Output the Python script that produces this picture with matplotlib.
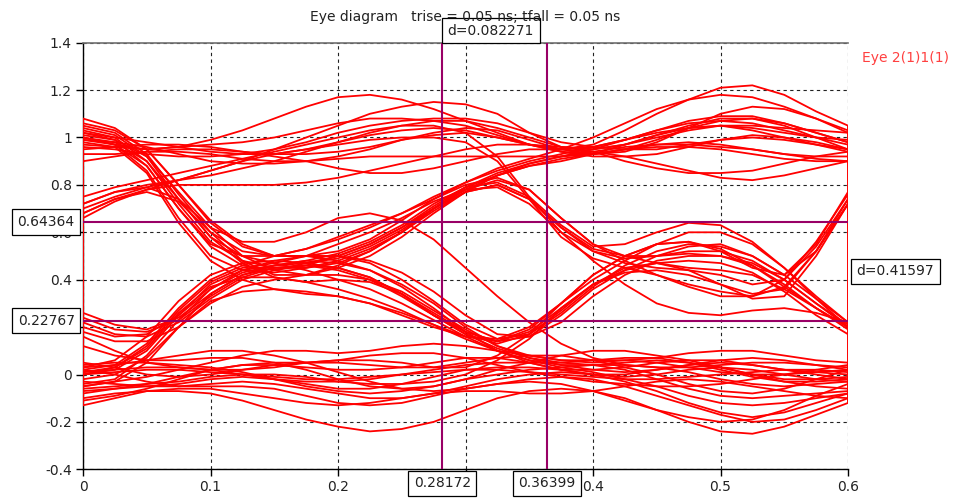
import matplotlib
matplotlib.use("Agg")
import matplotlib.pyplot as plt

plt.rcParams['font.family'] = ['DejaVu Sans']

# time grid (ns) at which each trace value was read
time_ns = [0.0, 0.025, 0.05, 0.075, 0.1, 0.125, 0.15, 0.175, 0.2, 0.225, 0.25, 0.275,
           0.3, 0.325, 0.35, 0.375, 0.4, 0.425, 0.45, 0.475, 0.5, 0.525, 0.55, 0.575, 0.6]

# traces that stay on the high rail
high_traces = [
    [1.0, 0.97, 0.95, 0.96, 0.99, 1.03, 1.08, 1.13, 1.17, 1.18, 1.16, 1.12, 1.07, 1.02, 0.97, 0.95, 0.97, 1.03, 1.1, 1.16, 1.21, 1.22, 1.18, 1.11, 1.05],
    [0.97, 0.96, 0.95, 0.96, 0.97, 0.98, 1.0, 1.03, 1.06, 1.08, 1.08, 1.07, 1.05, 1.01, 0.97, 0.94, 0.93, 0.95, 0.99, 1.04, 1.07, 1.08, 1.06, 1.02, 0.98],
    [0.93, 0.93, 0.94, 0.95, 0.95, 0.94, 0.92, 0.9, 0.87, 0.85, 0.85, 0.87, 0.9, 0.93, 0.95, 0.95, 0.94, 0.92, 0.89, 0.86, 0.83, 0.82, 0.84, 0.87, 0.9],
    [1.02, 1.0, 0.98, 0.96, 0.94, 0.93, 0.93, 0.95, 0.98, 1.01, 1.03, 1.04, 1.03, 1.0, 0.97, 0.95, 0.96, 0.99, 1.03, 1.06, 1.07, 1.06, 1.03, 1.0, 0.97],
    [0.95, 0.96, 0.97, 0.97, 0.96, 0.94, 0.93, 0.93, 0.94, 0.96, 0.99, 1.01, 1.02, 1.0, 0.97, 0.94, 0.92, 0.92, 0.93, 0.96, 0.99, 1.01, 1.0, 0.98, 0.95],
    [0.9, 0.92, 0.94, 0.94, 0.93, 0.91, 0.9, 0.9, 0.91, 0.92, 0.92, 0.92, 0.92, 0.92, 0.92, 0.92, 0.93, 0.95, 0.97, 0.98, 0.97, 0.95, 0.93, 0.91, 0.9],
    [0.96, 0.95, 0.93, 0.92, 0.92, 0.93, 0.95, 0.98, 1.02, 1.05, 1.07, 1.08, 1.08, 1.06, 1.02, 0.98, 0.96, 0.95, 0.95, 0.97, 0.99, 1.0, 0.99, 0.97, 0.95],
    [0.99, 0.98, 0.96, 0.93, 0.9, 0.89, 0.89, 0.9, 0.92, 0.95, 0.99, 1.02, 1.04, 1.03, 0.99, 0.95, 0.93, 0.94, 0.98, 1.04, 1.1, 1.13, 1.12, 1.08, 1.02],
]

# traces starting high and falling to the middle level near 0.07 ns
falling_traces = [
    [1.03, 1.0, 0.9, 0.72, 0.56, 0.48, 0.45, 0.45, 0.47, 0.52, 0.6, 0.7, 0.79, 0.85, 0.89, 0.92, 0.95, 0.99, 1.03, 1.07, 1.09, 1.09, 1.06, 1.02, 0.98],
    [1.0, 0.97, 0.86, 0.66, 0.5, 0.44, 0.43, 0.45, 0.48, 0.53, 0.6, 0.69, 0.77, 0.8, 0.74, 0.62, 0.53, 0.5, 0.5, 0.51, 0.5, 0.46, 0.38, 0.28, 0.2],
    [1.05, 1.02, 0.93, 0.76, 0.6, 0.52, 0.5, 0.5, 0.48, 0.44, 0.37, 0.28, 0.18, 0.1, 0.05, 0.02, 0.0, -0.01, 0.0, 0.02, 0.03, 0.02, 0.0, -0.02, -0.03],
    [1.0, 0.98, 0.9, 0.74, 0.58, 0.47, 0.41, 0.39, 0.4, 0.39, 0.34, 0.26, 0.18, 0.14, 0.18, 0.28, 0.38, 0.43, 0.44, 0.42, 0.38, 0.34, 0.36, 0.52, 0.74],
    [1.08, 1.04, 0.95, 0.8, 0.65, 0.55, 0.5, 0.5, 0.52, 0.57, 0.65, 0.74, 0.81, 0.87, 0.91, 0.95, 1.0, 1.06, 1.12, 1.16, 1.18, 1.17, 1.13, 1.08, 1.03],
    [0.98, 0.96, 0.85, 0.64, 0.48, 0.4, 0.36, 0.34, 0.33, 0.3, 0.25, 0.2, 0.16, 0.15, 0.2, 0.3, 0.4, 0.48, 0.55, 0.6, 0.6, 0.55, 0.45, 0.32, 0.2],
    [1.02, 0.99, 0.88, 0.7, 0.55, 0.5, 0.5, 0.53, 0.58, 0.63, 0.68, 0.74, 0.8, 0.83, 0.78, 0.66, 0.55, 0.48, 0.42, 0.37, 0.33, 0.33, 0.4, 0.56, 0.76],
    [1.04, 1.01, 0.92, 0.74, 0.58, 0.5, 0.47, 0.44, 0.4, 0.36, 0.3, 0.23, 0.16, 0.1, 0.06, 0.04, 0.04, 0.05, 0.06, 0.05, 0.03, 0.0, -0.03, -0.05, -0.06],
    [1.01, 0.99, 0.92, 0.77, 0.62, 0.56, 0.56, 0.6, 0.66, 0.68, 0.65, 0.57, 0.45, 0.33, 0.22, 0.13, 0.07, 0.04, 0.03, 0.03, 0.04, 0.05, 0.05, 0.04, 0.03],
    [1.06, 1.03, 0.95, 0.8, 0.64, 0.54, 0.5, 0.5, 0.5, 0.48, 0.43, 0.35, 0.25, 0.17, 0.16, 0.22, 0.33, 0.42, 0.48, 0.5, 0.5, 0.47, 0.4, 0.3, 0.21],
    [0.99, 0.97, 0.88, 0.7, 0.54, 0.46, 0.44, 0.46, 0.5, 0.55, 0.62, 0.71, 0.79, 0.84, 0.88, 0.9, 0.93, 0.97, 1.01, 1.04, 1.05, 1.03, 1.0, 0.97, 0.94],
]

# traces starting near 0.7 (rising from the middle level)
rising_traces = [
    [0.72, 0.77, 0.8, 0.82, 0.84, 0.87, 0.9, 0.94, 0.98, 1.02, 1.05, 1.07, 1.07, 1.04, 1.0, 0.96, 0.95, 0.97, 1.01, 1.05, 1.08, 1.08, 1.05, 1.0, 0.95],
    [0.68, 0.74, 0.78, 0.8, 0.8, 0.8, 0.8, 0.81, 0.83, 0.86, 0.89, 0.92, 0.95, 0.97, 0.97, 0.96, 0.94, 0.9, 0.87, 0.85, 0.85, 0.86, 0.89, 0.92, 0.94],
    [0.75, 0.79, 0.82, 0.85, 0.88, 0.91, 0.94, 0.97, 1.0, 1.03, 1.05, 1.05, 1.02, 0.92, 0.75, 0.6, 0.52, 0.49, 0.5, 0.52, 0.52, 0.48, 0.4, 0.3, 0.2],
    [0.66, 0.73, 0.78, 0.82, 0.86, 0.9, 0.93, 0.95, 0.97, 0.99, 1.0, 1.0, 0.98, 0.9, 0.74, 0.58, 0.49, 0.45, 0.42, 0.38, 0.35, 0.33, 0.37, 0.52, 0.72],
    [0.7, 0.75, 0.79, 0.82, 0.86, 0.9, 0.95, 1.0, 1.05, 1.1, 1.13, 1.15, 1.14, 1.1, 1.02, 0.96, 0.95, 0.97, 1.0, 1.03, 1.05, 1.05, 1.04, 1.03, 1.02],
    [0.72, 0.77, 0.79, 0.74, 0.62, 0.5, 0.44, 0.42, 0.42, 0.4, 0.35, 0.27, 0.19, 0.12, 0.08, 0.06, 0.06, 0.06, 0.05, 0.03, 0.01, 0.0, 0.0, 0.01, 0.02],
    [0.68, 0.74, 0.77, 0.73, 0.6, 0.48, 0.42, 0.42, 0.45, 0.5, 0.58, 0.68, 0.77, 0.84, 0.89, 0.92, 0.94, 0.96, 0.97, 0.97, 0.96, 0.95, 0.93, 0.92, 0.92],
]

# traces starting low and rising to the middle level
low_to_mid_traces = [
    [0.0, 0.02, 0.1, 0.25, 0.38, 0.44, 0.46, 0.48, 0.51, 0.56, 0.63, 0.72, 0.79, 0.81, 0.75, 0.63, 0.54, 0.55, 0.6, 0.64, 0.63, 0.56, 0.45, 0.33, 0.22],
    [-0.05, -0.03, 0.05, 0.2, 0.34, 0.42, 0.45, 0.46, 0.45, 0.41, 0.34, 0.25, 0.17, 0.11, 0.07, 0.05, 0.04, 0.02, -0.02, -0.06, -0.09, -0.1, -0.09, -0.08, -0.07],
    [0.03, 0.06, 0.16, 0.31, 0.42, 0.47, 0.48, 0.47, 0.45, 0.41, 0.34, 0.25, 0.17, 0.13, 0.17, 0.27, 0.38, 0.45, 0.47, 0.44, 0.38, 0.32, 0.33, 0.5, 0.72],
    [0.02, 0.04, 0.13, 0.28, 0.4, 0.46, 0.5, 0.53, 0.57, 0.62, 0.68, 0.75, 0.81, 0.86, 0.9, 0.93, 0.96, 0.99, 1.02, 1.04, 1.05, 1.04, 1.02, 1.0, 0.99],
    [-0.02, 0.0, 0.07, 0.2, 0.31, 0.35, 0.36, 0.35, 0.33, 0.3, 0.26, 0.21, 0.16, 0.14, 0.19, 0.3, 0.42, 0.5, 0.55, 0.56, 0.53, 0.46, 0.37, 0.28, 0.19],
    [0.01, 0.03, 0.12, 0.27, 0.39, 0.45, 0.47, 0.5, 0.55, 0.6, 0.66, 0.73, 0.78, 0.79, 0.72, 0.6, 0.48, 0.38, 0.3, 0.26, 0.25, 0.27, 0.28, 0.26, 0.22],
    [-0.06, -0.05, -0.04, -0.03, -0.01, 0.0, 0.0, -0.01, -0.03, -0.04, -0.04, -0.03, 0.0, 0.06, 0.15, 0.28, 0.38, 0.44, 0.47, 0.48, 0.47, 0.43, 0.35, 0.25, 0.17],
    [0.01, 0.02, 0.03, 0.03, 0.02, 0.02, 0.03, 0.05, 0.06, 0.06, 0.05, 0.03, 0.03, 0.08, 0.17, 0.3, 0.42, 0.5, 0.55, 0.56, 0.52, 0.45, 0.42, 0.55, 0.77],
    [-0.04, -0.02, 0.08, 0.23, 0.36, 0.43, 0.46, 0.47, 0.49, 0.54, 0.61, 0.7, 0.77, 0.8, 0.74, 0.62, 0.52, 0.47, 0.45, 0.44, 0.42, 0.38, 0.4, 0.54, 0.74],
    [0.0, 0.03, 0.11, 0.26, 0.37, 0.41, 0.41, 0.39, 0.36, 0.32, 0.27, 0.21, 0.15, 0.1, 0.06, 0.03, 0.01, -0.02, -0.05, -0.09, -0.12, -0.13, -0.12, -0.1, -0.08],
]

# traces starting near 0.2 (middle level dipping, then recovering or settling low)
mid_dip_traces = [
    [0.22, 0.17, 0.16, 0.22, 0.32, 0.4, 0.44, 0.47, 0.5, 0.55, 0.62, 0.7, 0.78, 0.82, 0.78, 0.66, 0.55, 0.5, 0.47, 0.45, 0.44, 0.42, 0.36, 0.28, 0.2],
    [0.26, 0.21, 0.19, 0.24, 0.34, 0.42, 0.46, 0.48, 0.47, 0.44, 0.38, 0.3, 0.2, 0.12, 0.07, 0.04, 0.02, 0.01, 0.02, 0.04, 0.06, 0.07, 0.06, 0.04, 0.02],
    [0.18, 0.14, 0.14, 0.2, 0.3, 0.37, 0.4, 0.42, 0.46, 0.52, 0.6, 0.7, 0.78, 0.84, 0.88, 0.91, 0.93, 0.95, 0.96, 0.96, 0.95, 0.93, 0.91, 0.9, 0.9],
    [0.2, 0.16, 0.17, 0.25, 0.36, 0.44, 0.48, 0.5, 0.5, 0.47, 0.4, 0.31, 0.21, 0.15, 0.17, 0.26, 0.37, 0.46, 0.52, 0.55, 0.54, 0.5, 0.42, 0.32, 0.22],
    [0.24, 0.19, 0.18, 0.23, 0.33, 0.41, 0.45, 0.46, 0.44, 0.4, 0.33, 0.25, 0.18, 0.14, 0.16, 0.25, 0.36, 0.44, 0.5, 0.54, 0.55, 0.5, 0.42, 0.52, 0.72],
    [0.16, 0.1, 0.05, 0.03, 0.02, 0.0, -0.02, -0.03, -0.03, -0.02, 0.0, 0.02, 0.04, 0.05, 0.05, 0.05, 0.06, 0.07, 0.07, 0.05, 0.02, -0.01, -0.03, -0.03, -0.02],
    [0.12, 0.08, 0.06, 0.06, 0.07, 0.07, 0.05, 0.02, -0.02, -0.05, -0.06, -0.05, -0.02, 0.02, 0.05, 0.08, 0.1, 0.1, 0.08, 0.06, 0.03, 0.0, -0.02, -0.02, -0.01],
]

# traces that stay on the low rail
low_traces = [
    [0.0, 0.01, 0.02, 0.02, 0.01, 0.0, -0.01, -0.02, -0.02, -0.01, 0.0, 0.01, 0.02, 0.02, 0.01, 0.0, -0.01, -0.02, -0.02, -0.01, 0.0, 0.01, 0.02, 0.02, 0.01],
    [-0.05, -0.03, -0.01, 0.02, 0.05, 0.08, 0.1, 0.1, 0.09, 0.1, 0.12, 0.13, 0.12, 0.1, 0.08, 0.06, 0.05, 0.06, 0.07, 0.09, 0.1, 0.1, 0.08, 0.06, 0.05],
    [-0.1, -0.08, -0.07, -0.07, -0.08, -0.11, -0.15, -0.19, -0.22, -0.24, -0.23, -0.2, -0.15, -0.1, -0.07, -0.06, -0.07, -0.1, -0.15, -0.2, -0.24, -0.25, -0.22, -0.17, -0.12],
    [0.03, 0.04, 0.06, 0.08, 0.1, 0.1, 0.08, 0.05, 0.01, -0.03, -0.06, -0.07, -0.06, -0.04, -0.02, -0.01, -0.02, -0.05, -0.09, -0.13, -0.17, -0.2, -0.19, -0.15, -0.1],
    [-0.13, -0.1, -0.07, -0.06, -0.06, -0.08, -0.1, -0.12, -0.13, -0.12, -0.1, -0.08, -0.07, -0.07, -0.08, -0.08, -0.07, -0.05, -0.03, -0.02, -0.03, -0.05, -0.07, -0.09, -0.1],
    [-0.08, -0.06, -0.05, -0.05, -0.04, -0.03, -0.04, -0.06, -0.08, -0.1, -0.1, -0.08, -0.05, -0.02, 0.0, 0.01, 0.0, -0.03, -0.07, -0.12, -0.16, -0.18, -0.16, -0.12, -0.08],
    [0.05, 0.03, 0.0, -0.01, 0.0, 0.02, 0.04, 0.05, 0.05, 0.04, 0.03, 0.03, 0.05, 0.07, 0.08, 0.08, 0.06, 0.03, 0.0, -0.04, -0.07, -0.08, -0.06, -0.02, 0.02],
    [-0.03, -0.04, -0.05, -0.04, -0.02, -0.01, -0.02, -0.04, -0.06, -0.06, -0.04, -0.01, 0.02, 0.03, 0.03, 0.02, 0.02, 0.03, 0.05, 0.06, 0.06, 0.04, 0.02, 0.0, -0.02],
    [0.02, 0.0, -0.03, -0.05, -0.05, -0.05, -0.06, -0.09, -0.12, -0.13, -0.12, -0.09, -0.06, -0.04, -0.03, -0.04, -0.07, -0.11, -0.15, -0.18, -0.2, -0.19, -0.15, -0.09, -0.04],
    [-0.11, -0.09, -0.06, -0.02, 0.02, 0.04, 0.04, 0.03, 0.02, 0.02, 0.03, 0.05, 0.07, 0.07, 0.05, 0.02, 0.0, 0.0, 0.02, 0.04, 0.05, 0.04, 0.02, 0.01, 0.0],
    [-0.07, -0.06, -0.04, -0.01, 0.02, 0.04, 0.05, 0.05, 0.06, 0.08, 0.09, 0.09, 0.07, 0.04, 0.01, -0.01, -0.03, -0.04, -0.05, -0.05, -0.04, -0.02, 0.0, 0.02, 0.04],
    [0.04, 0.05, 0.05, 0.04, 0.03, 0.01, -0.02, -0.05, -0.07, -0.08, -0.07, -0.05, -0.02, 0.0, 0.02, 0.03, 0.04, 0.04, 0.03, 0.01, -0.02, -0.04, -0.05, -0.04, -0.03],
]

# marker readouts
marker_times = [0.28172, 0.36399]
marker_levels = [0.64364, 0.22767]
marker_time_label = "d=0.082271"
marker_level_label = "d=0.41597"

x_ticks = [0, 0.1, 0.2, 0.3, 0.4, 0.5, 0.6]
x_tick_labels = ["0", "0.1", "0.2", "", "0.4", "0.5", "0.6"]   # 0.3 is hidden under the marker boxes
y_ticks = [-0.4, -0.2, 0, 0.2, 0.4, 0.6, 0.8, 1.0, 1.2, 1.4]
y_tick_labels = ["-0.4", "-0.2", "0", "0.2", "0.4", "0.6", "0.8", "1", "1.2", "1.4"]

title_text = "Eye diagram   trise = 0.05 ns; tfall = 0.05 ns"
series_name = "Eye 2(1)1(1)"

TRACE = "#ff0000"
MARK = "#990066"
FS = 10

fig = plt.figure(figsize=(9.55, 4.99), dpi=100)
ax = fig.add_axes([83 / 955, 1 - 469.3 / 499, 765 / 955, 426.6 / 499])

all_traces = high_traces + falling_traces + rising_traces + low_to_mid_traces + mid_dip_traces + low_traces
for tr in all_traces:
    ax.plot(time_ns, tr, color=TRACE, lw=1.3, zorder=3, solid_joinstyle='round')

# wrap-around retrace segments at both edges
starts = [tr[0] for tr in all_traces]
ends = [tr[-1] for tr in all_traces]
ax.plot([time_ns[0], time_ns[0]], [min(starts), max(starts)], color=TRACE, lw=1.4, zorder=3)
ax.plot([time_ns[-1], time_ns[-1]], [min(ends), max(ends)], color=TRACE, lw=1.4, zorder=3)

ax.set_xlim(0, 0.6)
ax.set_ylim(-0.4, 1.4)
ax.set_xticks(x_ticks)
ax.set_xticklabels(x_tick_labels)
ax.set_yticks(y_ticks)
ax.set_yticklabels(y_tick_labels)
ax.tick_params(axis='both', direction='out', length=5, width=1, colors='black',
               labelsize=FS, labelcolor='#222222', pad=3)
ax.grid(True, color='#222222', linestyle=(0, (3, 3)), linewidth=0.8, zorder=1)

for side in ['left', 'bottom']:
    ax.spines[side].set_color('black')
    ax.spines[side].set_linewidth(1.0)
ax.spines['top'].set_color('#707070')
ax.spines['top'].set_linewidth(1.2)
ax.spines['right'].set_visible(False)

# markers
for xt in marker_times:
    ax.axvline(xt, color=MARK, lw=1.5, zorder=5)
for yl in marker_levels:
    ax.axhline(yl, color=MARK, lw=1.5, zorder=5)

box = dict(boxstyle='square,pad=0.4', facecolor='white', edgecolor='black', linewidth=0.9)

fig.text(0.5 * (83 + 848) / 955, 1 - 17 / 499, title_text, ha='center', va='center',
         fontsize=FS, color='#222222')

# horizontal marker values on the left
for yl in marker_levels:
    ax.annotate(f"{yl:.5f}", xy=(0, yl), xycoords='data', xytext=(-6, 0), textcoords='offset points',
                ha='right', va='center', fontsize=FS, color='#222222', bbox=box,
                annotation_clip=False, zorder=10)

# vertical marker values under the axis
for xt in marker_times:
    ax.annotate(f"{xt:.5f}", xy=(xt, -0.4), xycoords='data', xytext=(0, -10), textcoords='offset points',
                ha='center', va='center', fontsize=FS, color='#222222', bbox=box,
                annotation_clip=False, zorder=10)

# difference readouts
ax.annotate(marker_time_label, xy=(marker_times[0], 1.4), xycoords='data', xytext=(4, 8.5),
            textcoords='offset points', ha='left', va='center', fontsize=FS, color='#222222',
            bbox=box, annotation_clip=False, zorder=10)
ax.annotate(marker_level_label, xy=(0.6, sum(marker_levels) / 2), xycoords='data', xytext=(6, 0),
            textcoords='offset points', ha='left', va='center', fontsize=FS, color='#222222',
            bbox=box, annotation_clip=False, zorder=10)

fig.text(862 / 955, 1 - 58 / 499, series_name, ha='left', va='center', fontsize=FS, color='#ff4040')

fig.savefig("out.png", dpi=100, facecolor='white')
